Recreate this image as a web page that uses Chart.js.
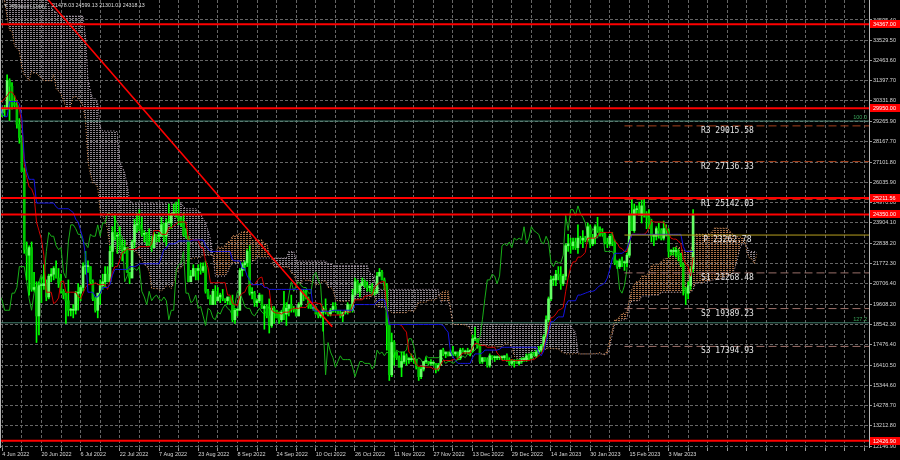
<!DOCTYPE html>
<html><head><meta charset="utf-8">
<script src="https://cdn.jsdelivr.net/npm/chart.js@4/dist/chart.umd.min.js"></script>
<style>html,body{margin:0;padding:0;background:#000;}#wrap{width:900px;height:460px;}</style>
</head><body><div id="wrap"><canvas id="c" width="900" height="460"></canvas></div>
<script>
// ---------- DATA (prices in thousands of USD), daily bars starting 19 Mar 2022 ----------
const symbolTitle = '#Bitcoin,Daily';
const ohlcTitle = '21478.03 24599.13 21301.03 24318.13';
const firstDay = -77; // 19 Mar 2022, day 0 = 4 Jun 2022

const opens = [
 41.8,42.2,41.3,41.0,42.4,42.9,44.0,44.3,44.5,46.8,47.1,47.5,47.1,
 45.5,46.3,45.8,46.4,46.6,45.5,43.2,43.4,42.3,42.8,42.2,39.5,40.1,41.2,39.9,40.6,40.4,39.7,40.8,41.5,41.4,40.5,39.7,39.5,39.5,40.4,38.1,39.2,39.7,38.6,
 37.7,38.5,38.5,37.7,39.7,36.6,36.0,35.5,34.1,30.1,31.0,29.1,29.0,29.3,29.9,31.3,29.9,30.4,28.7,30.3,29.2,29.4,30.3,29.1,29.7,29.6,29.3,28.6,29.0,29.5,31.7,
 31.8,29.8,30.5,
 29.7,29.9,29.9,31.4,31.1,30.2,30.1,29.1,28.4,26.6,22.5,22.2,22.6,20.4,20.5,19.0,20.6,20.6,20.7,20.0,21.1,21.2,21.5,21.0,20.7,20.3,20.1,
 19.8,19.3,19.3,19.3,20.2,20.2,20.5,21.6,21.6,21.6,20.8,19.9,19.3,20.2,20.6,20.8,21.2,20.8,22.4,23.4,23.2,23.2,22.7,22.5,22.6,21.3,21.0,22.9,23.8,23.8,23.6,
 23.3,23.3,22.9,22.8,22.6,23.3,23.2,23.2,23.8,23.2,23.9,23.9,24.4,24.4,24.3,24.1,23.9,23.3,23.2,20.8,21.1,21.5,21.4,21.5,21.4,21.6,20.3,20.0,19.6,20.3,19.8,
 20.0,20.1,19.9,19.8,20.0,19.8,18.8,19.3,19.3,21.4,21.7,21.8,22.4,20.2,20.2,19.7,19.8,20.1,19.4,19.5,19.0,18.5,19.4,19.3,18.9,18.8,19.2,19.1,19.4,19.6,
 19.4,19.3,19.0,19.6,20.3,20.2,19.9,19.5,19.4,19.4,19.1,19.0,19.2,19.4,19.2,19.1,19.3,19.5,19.3,19.1,19.0,19.2,19.2,19.6,19.3,20.1,20.8,20.3,20.6,20.8,20.6,
 20.5,20.5,20.2,20.2,21.1,21.3,20.9,20.6,18.5,15.9,17.6,17.1,16.8,16.3,16.6,16.9,16.7,16.7,16.7,16.7,16.3,15.8,16.2,16.6,16.6,16.5,16.5,16.5,16.2,16.4,
 17.2,17.0,17.1,16.9,17.1,17.0,17.1,16.8,17.2,17.1,17.1,17.1,17.2,17.8,17.8,17.4,16.6,16.8,16.7,16.4,16.9,16.8,16.8,16.8,16.8,16.8,16.9,16.7,16.5,16.6,16.6,
 16.5,16.6,16.7,16.7,16.9,16.8,17.0,16.9,17.1,17.2,17.4,17.9,18.8,19.9,20.9,20.9,21.2,21.1,20.7,21.1,22.7,22.8,22.7,22.9,22.6,23.1,23.0,23.1,23.0,23.7,22.8,
 23.1,23.7,23.5,23.4,23.3,22.9,22.8,23.2,22.9,21.8,21.6,21.9,21.8,21.8,22.2,24.3,23.5,24.6,24.6,24.3,24.8,24.4,24.2,23.9,23.2,23.2,23.6,23.5,
 23.1,23.6,23.5,22.4,22.4,22.4,22.4,22.2,21.7,20.4,20.2,20.6,21.478
];
const highs = [
 42.4,42.3,41.5,43.4,43.0,44.2,45.1,44.8,46.9,48.2,48.1,47.7,47.6,
 46.7,47.2,47.4,46.9,47.2,45.5,43.9,43.9,42.8,43.4,42.4,40.7,41.5,41.5,40.9,40.7,40.6,41.0,41.7,42.2,42.9,40.8,39.9,39.9,40.6,40.8,39.4,40.3,39.9,38.8,
 38.6,39.1,38.6,39.9,39.8,36.6,36.1,35.5,34.2,32.6,32.1,30.0,31.0,30.3,31.4,31.3,30.7,30.6,30.5,30.7,29.6,30.4,30.6,29.8,30.2,29.8,29.3,29.2,29.6,32.1,32.3,
 31.9,30.6,30.6,
 29.9,30.1,31.7,31.5,31.3,30.6,30.3,29.4,28.5,26.8,22.9,22.7,22.9,21.3,20.8,20.8,21.0,21.7,20.9,21.2,21.5,21.6,21.9,21.5,21.2,20.4,20.2,
 20.9,19.4,19.6,20.3,20.7,20.6,21.8,22.4,21.9,21.6,20.9,20.0,20.2,20.9,21.2,21.6,21.6,22.7,23.7,24.3,23.4,23.7,23.0,23.0,22.6,21.3,23.0,24.1,24.4,24.6,24.2,
 23.5,23.4,23.6,23.2,23.4,23.3,23.4,24.2,23.9,24.1,24.9,24.4,24.9,25.0,25.2,24.2,24.4,23.6,23.2,21.4,21.7,21.5,21.7,21.8,21.8,21.9,20.4,20.1,20.4,20.6,20.5,
 20.2,20.4,19.9,20.0,20.0,20.1,19.4,19.4,21.5,21.8,21.9,22.5,22.7,20.5,20.3,19.9,20.2,20.1,19.6,19.6,19.9,19.5,19.5,19.3,19.2,19.3,20.3,19.7,19.6,20.1,
 19.5,19.4,19.7,20.4,20.4,20.4,20.0,19.6,19.5,19.5,19.2,19.2,19.5,19.9,19.2,19.4,19.7,19.7,19.3,19.3,19.2,19.3,19.7,19.6,20.4,21.0,20.9,20.7,21.0,20.9,20.8,
 20.6,20.7,20.4,21.3,21.5,21.4,21.0,20.7,18.6,18.1,17.7,17.1,16.9,17.1,17.1,17.0,16.8,17.0,16.8,16.7,16.3,16.3,16.6,16.8,16.6,16.7,16.6,16.5,16.5,17.2,
 17.3,17.1,17.1,17.2,17.4,17.1,17.1,17.3,17.3,17.2,17.3,17.2,18.0,18.4,17.8,17.5,16.8,16.8,16.8,17.0,16.9,16.9,16.9,16.9,16.9,16.9,17.0,16.8,16.7,16.7,16.7,
 16.7,16.8,16.8,17.0,17.0,17.1,17.1,17.2,17.4,17.5,18.0,19.0,20.0,21.1,21.1,21.4,21.6,21.6,21.2,22.8,23.3,23.1,23.1,23.1,23.8,23.2,23.5,23.2,23.9,23.8,23.3,
 23.8,24.2,23.7,23.6,23.4,23.1,23.3,23.4,23.0,21.9,22.0,22.1,21.9,22.3,24.4,25.2,24.9,24.8,25.0,25.1,25.2,24.5,24.6,24.1,23.3,23.7,23.9,23.6,
 24.0,23.8,23.6,22.5,22.6,22.6,22.5,22.3,21.8,20.5,20.8,21.6,24.599
];
const lows = [
 41.5,40.9,40.5,40.9,41.8,42.6,43.6,44.1,44.5,46.7,46.9,46.6,45.2,
 44.2,45.6,45.6,45.1,45.4,43.1,42.8,42.1,42.1,42.0,39.2,39.3,39.6,39.6,39.8,40.0,39.6,38.6,40.6,40.9,39.8,39.2,39.4,39.0,38.2,37.7,37.9,38.9,38.2,37.6,
 37.4,38.0,37.5,37.6,35.8,35.3,34.8,33.7,30.0,29.8,28.0,26.7,28.8,28.7,29.5,29.1,29.5,28.7,28.7,28.7,29.0,29.3,29.1,28.7,29.3,28.3,28.3,28.6,28.9,29.5,31.3,
 29.5,29.6,29.3,
 29.5,29.5,29.9,29.3,29.9,30.0,28.9,28.1,26.6,22.3,20.9,20.1,20.3,20.3,17.6,18.0,19.7,20.4,19.8,19.9,20.8,20.9,21.0,20.5,20.2,19.9,18.6,
 19.0,19.0,18.9,19.1,19.3,19.8,20.3,21.2,21.3,20.7,19.8,19.2,18.9,19.6,20.4,20.5,20.8,20.8,21.6,23.0,22.3,22.5,21.9,22.3,21.3,20.7,21.0,22.6,23.4,23.5,23.2,
 22.9,22.7,22.7,22.4,22.6,22.9,22.9,23.2,22.9,22.7,23.9,23.6,24.3,24.2,23.8,23.7,23.2,23.1,20.8,20.8,21.1,20.9,20.9,21.2,21.3,20.2,19.9,19.6,19.6,19.6,19.8,
 19.7,19.8,19.7,19.6,19.6,18.7,18.6,19.0,19.3,21.1,21.4,21.6,20.1,19.9,19.5,19.5,19.7,19.4,18.3,18.9,18.1,18.4,18.6,18.9,18.6,18.7,18.8,18.5,19.0,19.2,
 19.2,19.0,19.0,19.5,19.8,19.9,19.4,19.4,19.3,19.1,18.9,18.9,18.2,19.1,19.0,19.0,19.2,19.2,19.1,18.9,18.7,19.1,19.1,19.2,19.2,20.1,20.2,20.0,20.6,20.5,20.3,
 20.3,20.1,20.1,20.2,21.1,20.9,20.4,17.2,15.6,15.8,16.4,16.7,16.3,15.8,16.5,16.4,16.5,16.6,16.5,16.2,15.6,15.7,16.1,16.5,16.4,16.4,16.4,16.0,16.1,16.4,
 16.9,16.8,16.9,16.9,16.9,16.9,16.7,16.7,17.1,17.0,17.0,16.9,17.1,17.7,17.3,16.5,16.5,16.6,16.3,16.3,16.7,16.6,16.7,16.7,16.7,16.7,16.6,16.4,16.4,16.3,16.5,
 16.4,16.5,16.6,16.6,16.7,16.7,16.9,16.8,17.0,17.1,17.3,17.8,18.7,19.8,20.6,20.6,20.9,20.4,20.6,20.9,22.4,22.3,22.5,22.5,22.3,22.8,22.6,22.9,22.9,22.6,22.7,
 22.8,23.4,23.2,23.2,22.8,22.6,22.7,22.7,21.7,21.5,21.5,21.6,21.4,21.6,22.1,23.5,23.4,24.4,24.3,23.9,24.2,23.6,23.6,22.9,22.7,23.0,23.1,23.0,
 23.0,23.2,22.1,22.2,22.2,22.1,21.9,21.6,20.1,19.6,19.9,20.4,21.301
];
const closes = [
 42.2,41.3,41.0,42.4,42.9,44.0,44.3,44.5,46.8,47.1,47.5,47.1,45.5,
 46.3,45.8,46.4,46.6,45.5,43.2,43.4,42.3,42.8,42.2,39.5,40.1,41.2,39.9,40.6,40.4,39.7,40.8,41.5,41.4,40.5,39.7,39.5,39.5,40.4,38.1,39.2,39.7,38.6,37.7,
 38.5,38.5,37.7,39.7,36.6,36.0,35.5,34.1,30.1,31.0,29.1,29.0,29.3,29.9,31.3,29.9,30.4,28.7,30.3,29.2,29.4,30.3,29.1,29.7,29.6,29.3,28.6,29.0,29.5,31.7,31.8,
 29.8,30.5,29.7,
 29.9,29.9,31.4,31.1,30.2,30.1,29.1,28.4,26.6,22.5,22.2,22.6,20.4,20.5,19.0,20.6,20.6,20.7,20.0,21.1,21.2,21.5,21.0,20.7,20.3,20.1,19.8,
 19.3,19.3,19.3,20.2,20.2,20.5,21.6,21.6,21.6,20.8,19.9,19.3,20.2,20.6,20.8,21.2,20.8,22.4,23.4,23.2,23.2,22.7,22.5,22.6,21.3,21.0,22.9,23.8,23.8,23.6,23.3,
 23.3,22.9,22.8,22.6,23.3,23.2,23.2,23.8,23.2,23.9,23.9,24.4,24.4,24.3,24.1,23.9,23.3,23.2,20.8,21.1,21.5,21.4,21.5,21.4,21.6,20.3,20.0,19.6,20.3,19.8,20.0,
 20.1,19.9,19.8,20.0,19.8,18.8,19.3,19.3,21.4,21.7,21.8,22.4,20.2,20.2,19.7,19.8,20.1,19.4,19.5,19.0,18.5,19.4,19.3,18.9,18.8,19.2,19.1,19.4,19.6,19.4,
 19.3,19.0,19.6,20.3,20.2,19.9,19.5,19.4,19.4,19.1,19.0,19.2,19.4,19.2,19.1,19.3,19.5,19.3,19.1,19.0,19.2,19.2,19.6,19.3,20.1,20.8,20.3,20.6,20.8,20.6,20.5,
 20.5,20.2,20.2,21.1,21.3,20.9,20.6,18.5,15.9,17.6,17.1,16.8,16.3,16.6,16.9,16.7,16.7,16.7,16.7,16.3,15.8,16.2,16.6,16.6,16.5,16.5,16.5,16.2,16.4,17.2,
 17.0,17.1,16.9,17.1,17.0,17.1,16.8,17.2,17.1,17.1,17.1,17.2,17.8,17.8,17.4,16.6,16.8,16.7,16.4,16.9,16.8,16.8,16.8,16.8,16.8,16.9,16.7,16.5,16.6,16.6,16.5,
 16.6,16.7,16.7,16.9,16.8,17.0,16.9,17.1,17.2,17.4,17.9,18.8,19.9,20.9,20.9,21.2,21.1,20.7,21.1,22.7,22.8,22.7,22.9,22.6,23.1,23.0,23.1,23.0,23.7,22.8,23.1,
 23.7,23.5,23.4,23.3,22.9,22.8,23.2,22.9,21.8,21.6,21.9,21.8,21.8,22.2,24.3,23.5,24.6,24.6,24.3,24.8,24.4,24.2,23.9,23.2,23.2,23.6,23.5,23.1,
 23.6,23.5,22.4,22.4,22.4,22.4,22.2,21.7,20.4,20.2,20.6,21.478,24.318
];

const xTickLabels = ['4 Jun 2022','20 Jun 2022','6 Jul 2022','22 Jul 2022','7 Aug 2022','23 Aug 2022','8 Sep 2022','24 Sep 2022','10 Oct 2022','26 Oct 2022','11 Nov 2022','27 Nov 2022','13 Dec 2022','29 Dec 2022','14 Jan 2023','30 Jan 2023','15 Feb 2023','3 Mar 2023'];
const yTickValues = [34595.40,33529.50,32463.60,31397.70,30331.80,29265.90,28167.70,27101.80,26035.90,24970.00,23904.10,22838.20,21772.30,20706.40,19608.20,18542.30,17476.40,16410.50,15344.60,14278.70,13212.80,12146.90];
const redLevels = [34367.00, 29950.00, 25211.56, 24350.00, 12426.90];
const pivotNames = ['R3','R2','R1','P','S1','S2','S3'];
const pivotValues = [29015.58, 27136.33, 25142.03, 23262.78, 21268.48, 19389.23, 17394.93];
const pivotStartDay = 254;
const fibNames = ['100.0','127.2'];
const fibValues = [29270, 18640];
const trendDays = [18, 134.7];
const trendValues = [35770, 18434];

// ---------- CHART ----------
const X_MIN = -0.9, X_MAX = 353.8, Y_MIN = 12041.8, Y_MAX = 35649;
Chart.defaults.font.family = '"Liberation Sans", Arial, sans-serif';

function hl(i, n) {
  if (i - n + 1 < 0) return null;
  let hh = -1e9, ll = 1e9;
  for (let j = i - n + 1; j <= i; j++) { hh = Math.max(hh, highs[j]); ll = Math.min(ll, lows[j]); }
  return (hh + ll) / 2 * 1000;
}
const tenkan = [], kijun = [], spanA = [], spanB = [], chikou = [], wicks = [], bodies = [], bodyColors = [];
for (let i = 0; i < closes.length; i++) {
  const d = firstDay + i;
  const t = hl(i, 9), k = hl(i, 26), b = hl(i, 52);
  if (d >= -1) {
    if (t !== null) tenkan.push({x: d, y: t});
    if (k !== null) kijun.push({x: d, y: k});
    wicks.push({x: d, y: [lows[i] * 1000, highs[i] * 1000]});
    bodies.push({x: d, y: [opens[i] * 1000, closes[i] * 1000]});
    bodyColors.push(closes[i] >= opens[i] ? '#66ff66' : '#00c400');
  }
  if (b !== null && d + 26 >= 0) { spanA.push({x: d + 26, y: (t + k) / 2}); spanB.push({x: d + 26, y: b}); }
  if (d - 26 >= -1) chikou.push({x: d - 26, y: closes[i] * 1000});
}

function makePattern(color) {
  const c = document.createElement('canvas'); c.width = 3; c.height = 2;
  const g = c.getContext('2d'); g.fillStyle = color;
  g.fillRect(0, 0, 1, 1); g.fillRect(1, 0, 1, 1);
  return g.createPattern(c, 'repeat');
}
const patThistle = makePattern('rgba(200,188,200,0.7)');
const patSandy = makePattern('rgba(225,150,95,0.75)');

const hline = (v, x0, x1) => [{x: x0, y: v}, {x: x1, y: v}];
const datasets = [];
datasets.push({type: 'line', label: 'spanA', data: spanA, borderColor: '#e0955a', borderWidth: 1, borderDash: [1, 2], pointRadius: 0, fill: false, order: 9});
datasets.push({type: 'line', label: 'spanB', data: spanB, borderColor: '#c8b4c8', borderWidth: 1, borderDash: [1, 2], pointRadius: 0,
  fill: {target: 0, above: patThistle, below: patSandy}, order: 10});
fibValues.forEach((v) => datasets.push({type: 'line', data: hline(v, X_MIN, X_MAX), borderColor: 'rgba(80,150,130,0.85)', borderWidth: 1, pointRadius: 0, order: 8}));
datasets.push({type: 'line', label: 'chikou', data: chikou, borderColor: '#18b018', borderWidth: 1, pointRadius: 0, order: 7});
datasets.push({type: 'bar', label: 'wicks', data: wicks, backgroundColor: '#00ff00', barThickness: 1, grouped: false, order: 6});
datasets.push({type: 'bar', label: 'bodies', data: bodies, backgroundColor: bodyColors, barThickness: 2, minBarLength: 1, grouped: false, order: 5});
datasets.push({type: 'line', label: 'tenkan', data: tenkan, borderColor: '#d40000', borderWidth: 1, pointRadius: 0, order: 4});
datasets.push({type: 'line', label: 'kijun', data: kijun, borderColor: '#1414e0', borderWidth: 1, pointRadius: 0, order: 3});
pivotValues.forEach((v, i) => {
  const n = pivotNames[i];
  const col = n === 'P' ? '#b8a020' : (n[0] === 'R' ? '#a5401c' : '#9a6e68');
  datasets.push({type: 'line', data: hline(v, pivotStartDay, X_MAX), borderColor: col, borderWidth: 1, borderDash: n === 'P' ? [] : [8, 4], pointRadius: 0, order: 2});
});
redLevels.forEach((v) => datasets.push({type: 'line', data: hline(v, X_MIN, X_MAX), borderColor: '#ff0000', borderWidth: 2, pointRadius: 0, order: 1}));
datasets.push({type: 'line', data: trendDays.map((d, i) => ({x: d, y: trendValues[i]})), borderColor: '#ff0000', borderWidth: 1.6, pointRadius: 0, order: 0});

const overlay = {
  id: 'overlay',
  beforeDraw(chart) { const c = chart.ctx; c.save(); c.fillStyle = '#000'; c.fillRect(0, 0, chart.width, chart.height); c.restore(); },
  afterDraw(chart) {
    const {ctx, chartArea: a, scales: {x, y}} = chart;
    ctx.save();
    ctx.strokeStyle = '#b8b8b8'; ctx.lineWidth = 1;
    ctx.beginPath(); ctx.moveTo(a.right + 0.5, a.top); ctx.lineTo(a.right + 0.5, a.bottom); ctx.stroke();
    ctx.beginPath(); ctx.moveTo(0.5, a.top); ctx.lineTo(0.5, a.bottom); ctx.stroke();
    // pivot labels
    ctx.font = '8px "DejaVu Sans Mono", monospace'; ctx.fillStyle = '#e6e6e6'; ctx.textAlign = 'center'; ctx.textBaseline = 'middle';
    pivotNames.forEach((n, i) => ctx.fillText(n + ' ' + pivotValues[i].toFixed(2), x.getPixelForValue(296), y.getPixelForValue(pivotValues[i]) + 5));
    // fib labels
    ctx.font = '5.5px "Liberation Sans", Arial'; ctx.fillStyle = '#3aa65a'; ctx.textAlign = 'right'; ctx.textBaseline = 'bottom';
    fibNames.forEach((n, i) => ctx.fillText(n, a.right - 2, y.getPixelForValue(fibValues[i]) - 1));
    // red price boxes
    redLevels.forEach((v) => {
      const py = Math.round(y.getPixelForValue(v));
      ctx.fillStyle = '#ff0000'; ctx.fillRect(a.right + 1, py - 4, 30, 8);
      ctx.fillStyle = '#ffffff'; ctx.textAlign = 'left'; ctx.textBaseline = 'middle';
      ctx.fillText(v.toFixed(2), a.right + 4, py);
    });
    // title
    ctx.fillStyle = '#bdbdbd'; ctx.font = '5px "Liberation Sans", Arial'; ctx.textAlign = 'left'; ctx.textBaseline = 'middle';
    ctx.fillText('\u25BC', 3, 6);
    ctx.font = '6px "Liberation Sans", Arial'; ctx.fillText(symbolTitle, 10, 6);
    ctx.fillStyle = '#dcdcdc'; ctx.font = '5.3px "Liberation Sans", Arial'; ctx.fillText(ohlcTitle, 52, 6);
    ctx.restore();
  }
};

new Chart(document.getElementById('c'), {
  type: 'line',
  data: {datasets},
  plugins: [overlay],
  options: {
    responsive: false, animation: false, events: [],
    layout: {padding: 0},
    plugins: {legend: {display: false}, tooltip: {enabled: false}, title: {display: false}},
    scales: {
      x: {
        type: 'linear', min: X_MIN, max: X_MAX, offset: false, position: 'bottom',
        afterBuildTicks: (s) => { const t = []; for (let d = 0; d <= 352; d += 8) t.push({value: d}); s.ticks = t; },
        afterFit: (s) => { s.height = 12; s.paddingLeft = 0; s.paddingRight = 0; },
        ticks: {autoSkip: false, maxRotation: 0, align: 'start', padding: 0, color: '#d8d8d8', font: {size: 5.5},
          callback: (v) => (v % 16 === 0 && v / 16 < xTickLabels.length) ? xTickLabels[v / 16] : ''},
        grid: {offset: false, color: '#666666', lineWidth: 1, tickLength: 3, tickColor: '#9a9a9a'},
        border: {display: false, dash: [3, 2]}
      },
      y: {
        type: 'linear', min: Y_MIN, max: Y_MAX, position: 'right',
        afterBuildTicks: (s) => { s.ticks = yTickValues.map((v) => ({value: v})); },
        afterFit: (s) => { s.width = 31; s.paddingTop = 0; s.paddingBottom = 0; },
        ticks: {autoSkip: false, padding: 1, color: '#d8d8d8', font: {size: 5.5}, callback: (v) => Number(v).toFixed(2)},
        grid: {color: '#666666', lineWidth: 1, tickLength: 3, tickColor: '#9a9a9a'},
        border: {display: false, dash: [3, 2]}
      }
    }
  }
});
</script></body></html>
